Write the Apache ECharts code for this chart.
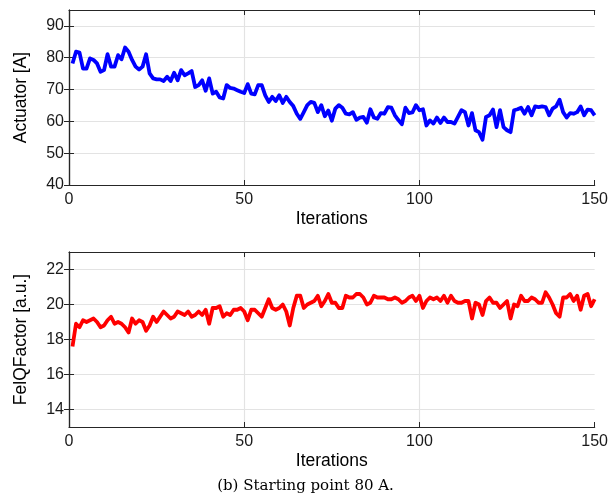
<!DOCTYPE html>
<html>
<head>
<meta charset="utf-8">
<script src="https://cdn.jsdelivr.net/npm/echarts@6/dist/echarts.min.js"></script>
<style>
html,body{margin:0;padding:0;background:#fff;}
#c{width:611px;height:500px;}
</style>
</head>
<body>
<div id="c"></div>
<script>
const iterations = Array.from({length:150},(_,k)=>k+1);
const actuator = [
78.2,81.9,81.6,76.6,76.6,79.8,79.3,78.2,75.6,76.1,
81.1,77.2,77.2,80.8,79.5,83.2,81.9,79.3,77.2,76.3,
77.2,81.1,75.1,73.5,73.2,73.2,72.7,74.0,72.7,75.3,
72.9,76.1,74.5,75.1,75.8,70.8,71.4,72.9,69.6,73.5,
68.7,69.3,67.5,67.2,71.4,70.5,70.3,69.8,69.3,68.9,
71.7,68.7,68.5,71.4,71.4,68.2,66.1,67.7,66.4,68.2,
65.8,67.7,66.1,64.8,62.4,60.8,62.9,65.1,66.1,65.8,
62.9,65.1,61.6,63.4,60.2,64.0,65.1,64.3,62.4,62.2,
62.9,60.5,61.2,61.4,59.6,63.8,61.2,60.8,62.6,62.4,
64.5,64.3,61.9,60.4,59.1,64.3,62.6,62.8,65.1,63.5,
63.8,58.7,60.3,59.3,61.2,59.5,61.2,59.8,59.8,59.3,
61.4,63.5,62.9,58.7,62.6,57.2,56.6,54.2,61.4,61.9,
63.7,58.2,63.5,58.2,57.2,56.6,63.5,63.8,64.3,62.4,
64.5,61.9,64.7,64.5,64.7,64.5,61.9,64.0,64.7,66.8,
62.9,61.2,62.6,62.4,62.9,64.7,61.9,63.7,63.5,61.9
];
const felq = [
17.6,18.9,18.7,19.1,19.0,19.1,19.2,19.0,18.7,18.8,
19.1,19.3,18.9,19.0,18.9,18.7,18.4,19.2,18.9,19.1,
19.0,18.5,18.8,19.3,19.0,19.3,19.6,19.4,19.2,19.3,
19.6,19.5,19.4,19.6,19.3,19.4,19.6,19.4,19.7,18.9,
19.8,19.8,19.9,19.3,19.5,19.4,19.7,19.7,19.8,19.6,
19.1,19.7,19.7,19.5,19.3,19.8,20.3,19.8,19.7,19.8,
20.0,19.6,18.8,19.8,20.5,20.5,19.8,20.0,20.1,20.2,
20.5,19.9,20.2,20.6,20.1,20.1,19.8,19.8,20.5,20.4,
20.4,20.6,20.6,20.4,20.0,20.1,20.5,20.4,20.4,20.4,
20.3,20.3,20.4,20.3,20.1,20.2,20.4,20.5,20.2,20.5,
19.8,20.2,20.4,20.3,20.4,20.2,20.5,20.1,20.5,20.2,
20.1,20.1,20.2,20.2,19.2,20.1,20.0,19.4,20.2,20.4,
20.1,20.1,19.8,20.0,20.2,19.2,20.0,19.9,20.5,20.2,
20.2,20.4,20.3,20.1,20.1,20.7,20.4,20.0,19.5,19.3,
20.4,20.4,20.6,20.2,20.5,19.7,20.5,20.6,19.9,20.3
];
const xTicks = [0,50,100,150];
const yTopTicks = [40,50,60,70,80,90];
const yBotTicks = [14,16,18,20,22];

const AX = '#262626';
const GRIDC = '#e3e3e3';
const FONT = 'Liberation Sans';

function xMain(gi, name){
  return {type:'value', gridIndex:gi, min:0, max:150, position:'bottom',
    name:name, nameLocation:'middle', nameGap:25,
    nameTextStyle:{fontFamily:FONT,fontSize:17.5,color:'#000'},
    axisLine:{show:true,lineStyle:{color:AX,width:1.2}},
    axisTick:{show:true,inside:true,length:5,lineStyle:{color:AX},customValues:xTicks},
    axisLabel:{fontFamily:FONT,fontSize:16,color:'#1a1a1a',margin:7,customValues:xTicks},
    splitLine:{show:false}};
}
function xMirror(gi){
  return {type:'value', gridIndex:gi, min:0, max:150, position:'top',
    axisLine:{show:true,lineStyle:{color:AX,width:1.2}},
    axisTick:{show:true,inside:true,length:5,lineStyle:{color:AX},customValues:xTicks},
    axisLabel:{show:false}, splitLine:{show:false}};
}
function yMain(gi,min,max,ticks,name){
  return {type:'value', gridIndex:gi, min:min, max:max, position:'left',
    name:name, nameLocation:'middle', nameGap:39,
    nameTextStyle:{fontFamily:FONT,fontSize:17.5,color:'#000'},
    axisLine:{show:true,lineStyle:{color:AX,width:1.2}},
    axisTick:{show:true,inside:true,length:5,lineStyle:{color:AX},customValues:ticks},
    axisLabel:{fontFamily:FONT,fontSize:16,color:'#1a1a1a',margin:5,customValues:ticks},
    splitLine:{show:false}};
}
function yMirror(gi,min,max,ticks){
  return {type:'value', gridIndex:gi, min:min, max:max, position:'right',
    axisLine:{show:true,lineStyle:{color:AX,width:1.2}},
    axisTick:{show:true,inside:true,length:5,lineStyle:{color:AX},customValues:ticks},
    axisLabel:{show:false}, splitLine:{show:false}};
}
function gridLines(xi, yi, yTicks){
  const data = xTicks.filter(v=>v>0 && v<150).map(v=>({xAxis:v}))
    .concat(yTicks.map(v=>({yAxis:v})));
  return {type:'line', xAxisIndex:xi, yAxisIndex:yi, data:[], z:0, silent:true,
    markLine:{silent:true, z:0, symbol:['none','none'], label:{show:false}, animation:false,
      lineStyle:{color:GRIDC,width:1.2,type:'solid'}, data:data}};
}

const chart = echarts.init(document.getElementById('c'), null, {renderer:'canvas'});
chart.setOption({
  backgroundColor:'#fff',
  animation:false,
  grid:[
    {left:69, top:10, width:526, height:175},
    {left:69, top:252, width:526, height:175}
  ],
  xAxis:[xMain(0,'Iterations'), xMirror(0), xMain(1,'Iterations'), xMirror(1)],
  yAxis:[yMain(0,40,95,yTopTicks,'Actuator [A]'), yMirror(0,40,95,yTopTicks),
         yMain(1,13,23,yBotTicks,'FelQFactor [a.u.]'), yMirror(1,13,23,yBotTicks)],
  graphic:[{type:'text', left:'center', top:479,
    style:{text:'(b) Starting point 80 A.', font:'15px "DejaVu Serif"', fill:'#000'}}],
  series:[
    gridLines(0,0,yTopTicks),
    gridLines(2,2,yBotTicks),
    {type:'line', xAxisIndex:0, yAxisIndex:0, showSymbol:false, symbol:'none', z:3,
     data:iterations.map((x,k)=>[x,actuator[k]]),
     lineStyle:{color:'#0000ff',width:3.8,join:'round'}},
    {type:'line', xAxisIndex:2, yAxisIndex:2, showSymbol:false, symbol:'none', z:3,
     data:iterations.map((x,k)=>[x,felq[k]]),
     lineStyle:{color:'#ff0000',width:3.8,join:'round'}}
  ]
});
</script>
</body>
</html>
